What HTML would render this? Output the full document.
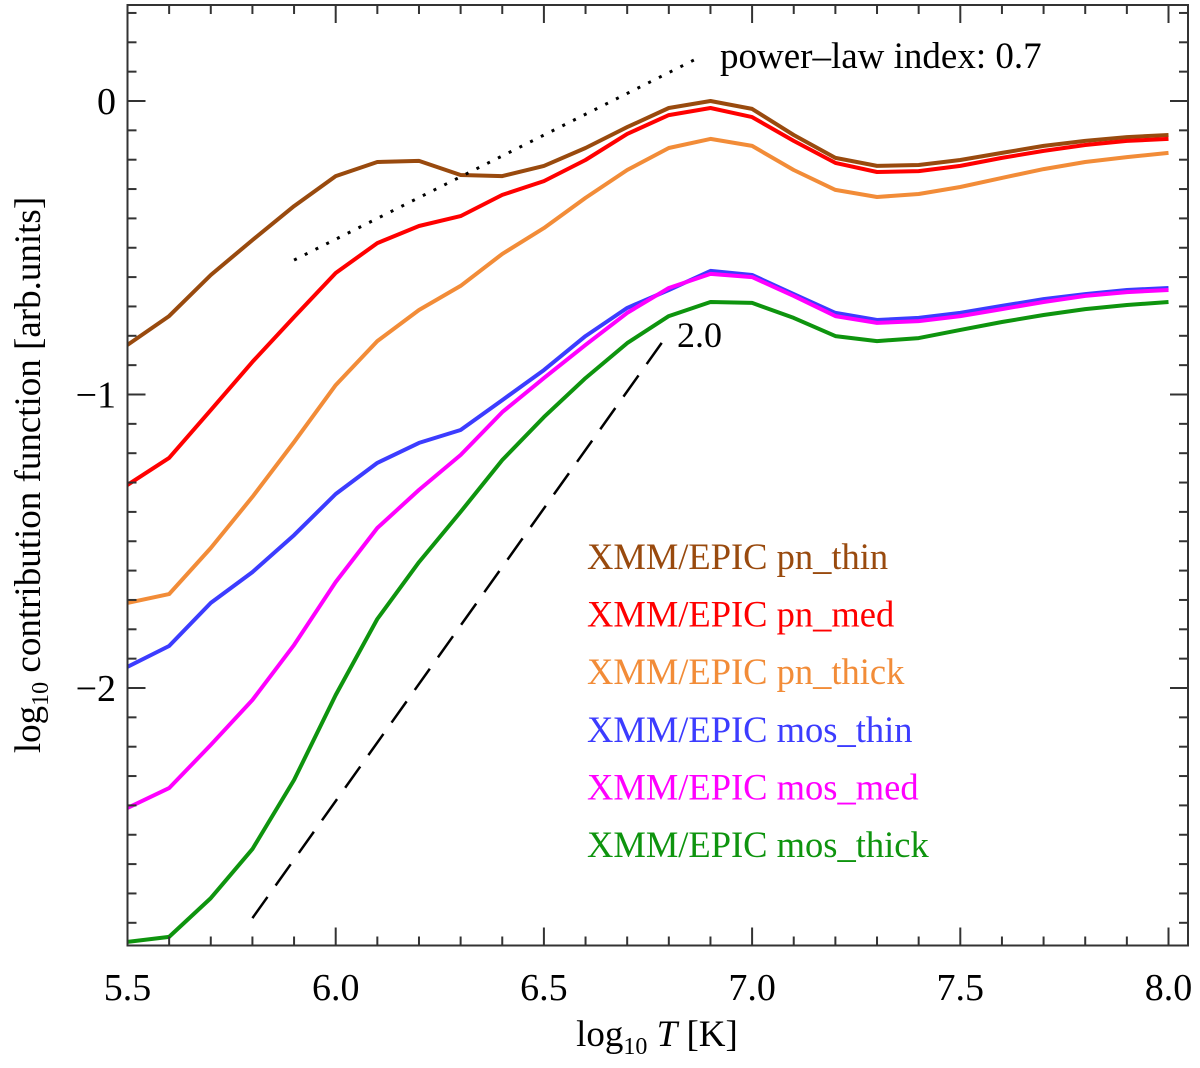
<!DOCTYPE html>
<html><head><meta charset="utf-8"><style>
html,body{margin:0;padding:0;background:#fff;}
svg text{font-family:"Liberation Serif","DejaVu Serif",serif;}
</style></head><body>
<svg id="chart" width="1200" height="1063" viewBox="0 0 1200 1063" xmlns="http://www.w3.org/2000/svg" font-family="Liberation Serif, serif"></svg>
<script>
const temps=[5.5,5.6,5.7,5.8,5.9,6.0,6.1,6.2,6.3,6.4,6.5,6.6,6.7,6.8,6.9,7.0,7.1,7.2,7.3,7.4,7.5,7.6,7.7,7.8,7.9,8.0];
const pnThin=[-0.831,-0.733,-0.593,-0.474,-0.358,-0.256,-0.208,-0.204,-0.252,-0.256,-0.221,-0.160,-0.089,-0.024,0,-0.027,-0.116,-0.194,-0.221,-0.218,-0.201,-0.177,-0.153,-0.136,-0.123,-0.116];
const pnMed=[-1.308,-1.216,-1.053,-0.889,-0.736,-0.586,-0.484,-0.426,-0.392,-0.320,-0.273,-0.201,-0.112,-0.048,-0.024,-0.055,-0.136,-0.211,-0.242,-0.239,-0.221,-0.194,-0.170,-0.150,-0.136,-0.129];
const pnThick=[-1.710,-1.680,-1.523,-1.349,-1.162,-0.968,-0.818,-0.712,-0.630,-0.521,-0.433,-0.330,-0.235,-0.160,-0.129,-0.153,-0.235,-0.303,-0.327,-0.317,-0.293,-0.262,-0.232,-0.208,-0.191,-0.177];
const mosThin=[-1.928,-1.857,-1.710,-1.605,-1.479,-1.339,-1.233,-1.165,-1.121,-1.019,-0.917,-0.801,-0.705,-0.644,-0.579,-0.593,-0.658,-0.722,-0.746,-0.739,-0.722,-0.698,-0.675,-0.658,-0.644,-0.637];
const mosMed=[-2.409,-2.341,-2.194,-2.041,-1.853,-1.639,-1.455,-1.325,-1.206,-1.060,-0.944,-0.831,-0.722,-0.637,-0.589,-0.600,-0.664,-0.733,-0.756,-0.750,-0.733,-0.709,-0.685,-0.664,-0.651,-0.644];
const mosThick=[-2.865,-2.848,-2.716,-2.549,-2.313,-2.024,-1.765,-1.571,-1.400,-1.223,-1.077,-0.944,-0.825,-0.733,-0.685,-0.688,-0.739,-0.801,-0.818,-0.808,-0.780,-0.753,-0.729,-0.709,-0.695,-0.685];
const seriesNames=["pn_thin","pn_med","pn_thick","mos_thin","mos_med","mos_thick"];
const seriesColors=["#994a0e","#ff0000","#f28c38","#3c3cff","#ff00ff","#0e940e"];
const xTicks=[5.5,6.0,6.5,7.0,7.5,8.0];
const xTickLabels=["5.5","6.0","6.5","7.0","7.5","8.0"];
const yTicks=[0,-1,-2];
const yTickLabels=["0","\u22121","\u22122"];
const dottedRef=[[5.9,-0.542],[6.875,0.150]];
const dashedRef=[[5.8,-2.784],[6.8,-0.790]];

const NS="http://www.w3.org/2000/svg";
const svg=document.getElementById('chart');
const L=127.5,R=1188,T=5,B=945.5;
const xmin=5.5,xmax=8.0;
const X=v=>L+(v-xmin)/(xmax-xmin)*(1168.5-L);
const Y=v=>101+(-v)*293.5;
const FF='Liberation Serif, DejaVu Serif, serif';
function el(tag,attrs,text){const e=document.createElementNS(NS,tag);for(const k in attrs)e.setAttribute(k,attrs[k]);if(tag==='text')e.setAttribute('font-family',FF);if(text!==undefined)e.textContent=text;svg.appendChild(e);return e;}

const allSeries=[pnThin,pnMed,pnThick,mosThin,mosMed,mosThick];
const defs=document.createElementNS(NS,'defs');svg.appendChild(defs);
const clip=document.createElementNS(NS,'clipPath');clip.setAttribute('id','pc');defs.appendChild(clip);
const cr=document.createElementNS(NS,'rect');cr.setAttribute('x',L);cr.setAttribute('y',T);cr.setAttribute('width',R-L);cr.setAttribute('height',B-T);clip.appendChild(cr);

for(let s=0;s<allSeries.length;s++){
  const d=allSeries[s].map((v,i)=>(i?'L':'M')+X(temps[i]).toFixed(1)+','+Y(v).toFixed(1)).join(' ');
  const p=el('path',{d:d,fill:'none',stroke:seriesColors[s],'stroke-width':4,'stroke-linejoin':'round','clip-path':'url(#pc)'});
  
  
}
const dl=el('line',{x1:X(dottedRef[0][0]),y1:Y(dottedRef[0][1]),x2:X(dottedRef[1][0]),y2:Y(dottedRef[1][1]),stroke:'#000','stroke-width':3,'stroke-dasharray':'3 9'});


const dsh=el('line',{x1:X(dashedRef[0][0]),y1:Y(dashedRef[0][1]),x2:X(dashedRef[1][0]),y2:Y(dashedRef[1][1]),stroke:'#000','stroke-width':2.5,'stroke-dasharray':'26 14'});


const t1=el('text',{x:720,y:68,'font-size':37},'power\u2013law index: 0.7');


const t2=el('text',{x:677,y:347,'font-size':36},'2.0');



const fr=el('rect',{x:L,y:T,width:R-L,height:B-T,fill:'none',stroke:'#333','stroke-width':2});


for(let k=0;k<=25;k++){
  const v=5.5+k*0.1;const x=X(v);const major=(k%5===0);const len=major?18:9;
  el('line',{x1:x,y1:B,x2:x,y2:B-len,stroke:'#333','stroke-width':2});
  el('line',{x1:x,y1:T,x2:x,y2:T+len,stroke:'#333','stroke-width':2});
}
xTicks.forEach((v,i)=>{const t=el('text',{x:X(v),y:1000,'font-size':38,'text-anchor':'middle'},xTickLabels[i]);
  
  });
for(let k=-28;k<=3;k++){
  const v=k*0.1;const y=Y(v);if(y<T||y>B)continue;const major=(k%10===0);const len=major?18:9;
  el('line',{x1:L,y1:y,x2:L+len,y2:y,stroke:'#333','stroke-width':2});
  el('line',{x1:R,y1:y,x2:R-len,y2:y,stroke:'#333','stroke-width':2});
}
yTicks.forEach((v,i)=>{const t=el('text',{x:116,y:Y(v)+13,'font-size':38,'text-anchor':'end'},yTickLabels[i]);
  
  });
const xt=el('text',{x:657,y:1046,'font-size':37,'text-anchor':'middle'});
xt.innerHTML='log<tspan font-size="24" dy="8">10</tspan><tspan dy="-8" font-style="italic"> T</tspan><tspan>  [K]</tspan>';


const yt=el('text',{x:0,y:0,'font-size':37,'text-anchor':'middle',transform:'translate(40,475) rotate(-90)'});
yt.innerHTML='log<tspan font-size="24" dy="8">10</tspan><tspan dy="-8"> contribution function  [arb.units]</tspan>';


seriesNames.forEach((n,i)=>{
  const t=el('text',{x:587,y:569+i*57.6,'font-size':36.5,fill:seriesColors[i]},'XMM/EPIC '+n);
  
  
});
</script>
</body></html>
